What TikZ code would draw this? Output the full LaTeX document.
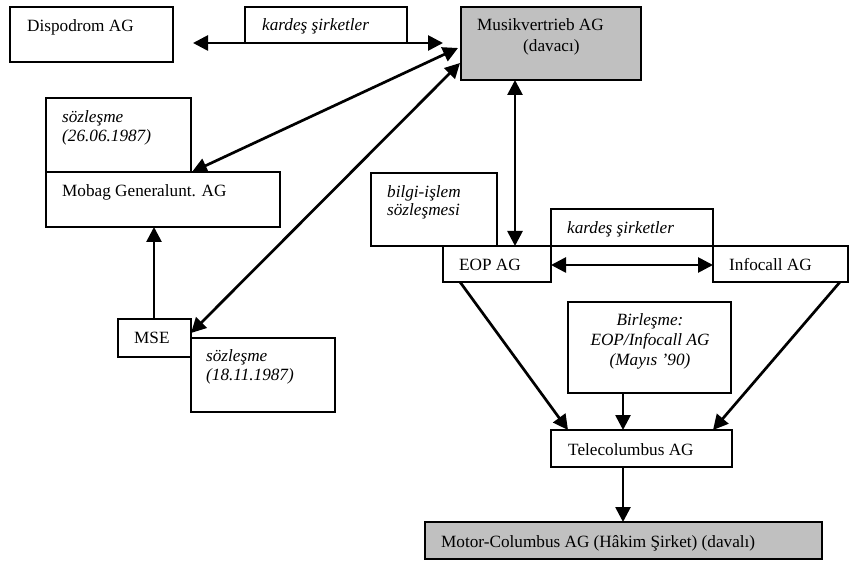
\documentclass[tikz,border=0pt]{standalone}
\usepackage{fontspec}
\setmainfont{Liberation Serif}
\usetikzlibrary{arrows.meta}
\definecolor{boxgray}{RGB}{192,192,192}
\begin{document}
\begin{tikzpicture}[x=1pt,y=-1pt,
  box/.style={draw,line width=1.4pt,anchor=north west,inner sep=0pt,outer sep=0pt},
  gbox/.style={box,fill=boxgray},
  txt/.style={anchor=base west,inner sep=0pt,font=\fontsize{17.2}{20}\selectfont},
  itxt/.style={anchor=base west,inner sep=0pt,font=\fontsize{17.2}{20}\selectfont\itshape},
  ctxt/.style={anchor=base,inner sep=0pt,font=\fontsize{17.2}{20}\selectfont\itshape},
  conn/.style={line width=2.7pt,-{Triangle[length=15pt,width=15pt]}},
  dconn/.style={line width=2.7pt,{Triangle[length=15pt,width=15pt]}-{Triangle[length=15pt,width=15pt]}}]
\useasboundingbox (0,0) rectangle (849,561);

% boxes
\node[box,minimum width=163pt,minimum height=55pt] (disp) at (10,7) {};
\node[box,minimum width=162pt,minimum height=36pt] (kard1) at (245,7) {};
\node[gbox,minimum width=180pt,minimum height=73pt] (musik) at (461,7) {};
\node[box,minimum width=145pt,minimum height=74pt] (soz1) at (46,98) {};
\node[box,minimum width=234pt,minimum height=55pt] (mobag) at (46,172) {};
\node[box,minimum width=126pt,minimum height=73pt] (bilgi) at (371,173) {};
\node[box,minimum width=162pt,minimum height=37pt] (kard2) at (551,209) {};
\node[box,minimum width=108pt,minimum height=36pt] (eop) at (443,246) {};
\node[box,minimum width=135pt,minimum height=36pt] (info) at (713,246) {};
\node[box,minimum width=73pt,minimum height=38pt] (mse) at (118,319) {};
\node[box,minimum width=144pt,minimum height=74pt] (soz2) at (191,338) {};
\node[box,minimum width=163pt,minimum height=91pt] (birl) at (568,302) {};
\node[box,minimum width=181pt,minimum height=37pt] (tele) at (551,430) {};
\node[gbox,minimum width=397pt,minimum height=37pt] (motor) at (425,522) {};

% texts
\node[txt] (tdisp) at (27,32) {Dispodrom AG};
\node[itxt] (tkard1) at (262,31) {kardeş şirketler};
\node[txt] (tmusik1) at (477,31) {Musikvertrieb AG};
\node[txt] (tmusik2) at (523,52) {(davacı)};
\node[itxt] (tsoz1a) at (62,123) {sözleşme};
\node[itxt] (tsoz1b) at (62,142) {(26.06.1987)};
\node[txt] (tmobag) at (62,197) {Mobag Generalunt. AG};
\node[itxt] (tbilgia) at (387,198) {bilgi-işlem};
\node[itxt] (tbilgib) at (387,216) {sözleşmesi};
\node[itxt] (tkard2) at (567,234) {kardeş şirketler};
\node[txt] (teop) at (459,271) {EOP AG};
\node[txt] (tinfo) at (729,271) {Infocall AG};
\node[txt] (tmse) at (134,344) {MSE};
\node[itxt] (tsoz2a) at (206,362) {sözleşme};
\node[itxt] (tsoz2b) at (206,381) {(18.11.1987)};
\node[ctxt] (tbirla) at (650,326) {Birleşme:};
\node[ctxt] (tbirlb) at (650,346) {EOP/Infocall AG};
\node[ctxt] (tbirlc) at (650,366) {(Mayıs ’90)};
\node[txt] (ttele) at (568,455) {Telecolumbus AG};
\node[txt] (tmotor) at (441,547) {Motor-Columbus AG (Hâkim Şirket) (davalı)};

% connector end points
\coordinate (dispE) at (193,43);
\coordinate (musikW1) at (443,43);
\coordinate (musikW2) at (458,48);
\coordinate (mobagN) at (192,172);
\coordinate (musikW3) at (460,63);
\coordinate (mseE) at (191,333);
\coordinate (musikS) at (515,80);
\coordinate (eopN) at (515,246);
\coordinate (eopE) at (551,265);
\coordinate (infoW) at (713,265);
\coordinate (mseN) at (154,319);
\coordinate (mobagS) at (154,227);
\coordinate (eopS) at (460,282);
\coordinate (teleN1) at (568,430);
\coordinate (birlS) at (623,393);
\coordinate (teleN2) at (623,430);
\coordinate (infoS) at (840,282);
\coordinate (teleN3) at (713,430);
\coordinate (teleS) at (623,467);
\coordinate (motorN) at (623,522);

% connectors
\draw[dconn] (dispE) -- (musikW1);
\draw[dconn] (musikW2) -- (mobagN);
\draw[dconn] (musikW3) -- (mseE);
\draw[dconn] (musikS) -- (eopN);
\draw[dconn] (eopE) -- (infoW);
\draw[conn] (mseN) -- (mobagS);
\draw[conn] (eopS) -- (teleN1);
\draw[conn] (birlS) -- (teleN2);
\draw[conn] (infoS) -- (teleN3);
\draw[conn] (teleS) -- (motorN);
\end{tikzpicture}
\end{document}
